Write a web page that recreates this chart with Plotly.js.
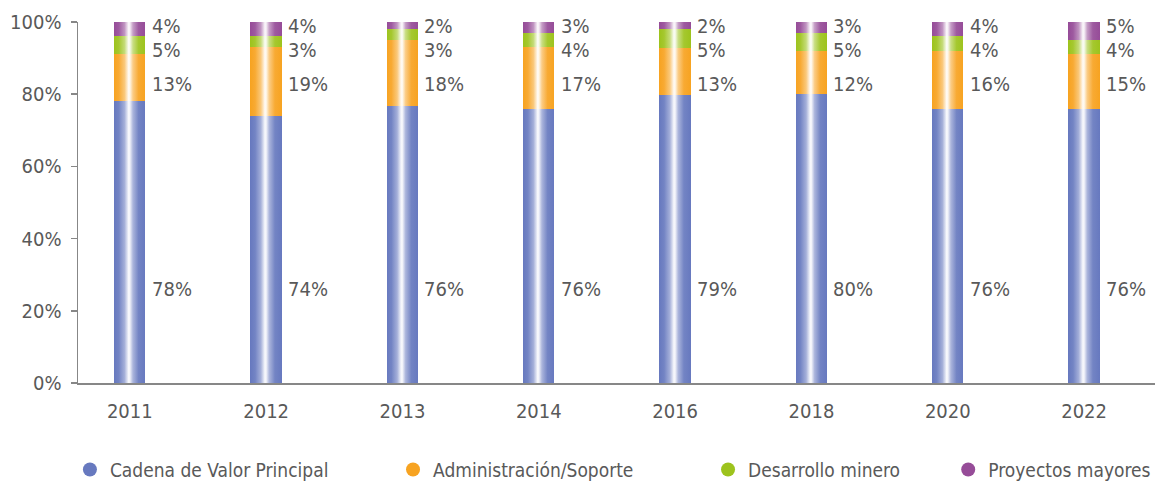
<!DOCTYPE html>
<html><head><meta charset="utf-8">
<script src="https://cdn.plot.ly/plotly-3.0.1.min.js"></script>
<style>html,body{margin:0;padding:0;background:#fff;} #chart{width:1155px;height:483px;}</style>
</head><body><div id="chart"></div>
<script>
// ---- data ----
const years = ['2011','2012','2013','2014','2016','2018','2020','2022'];
const cadena = [78,74,76,76,79,80,76,76];
const admin = [13,19,18,17,13,12,16,15];
const desarrollo = [5,3,3,4,5,5,4,4];
const proyectos = [4,4,2,3,2,3,4,5];
const seriesNames = ['Cadena de Valor Principal','Administración/Soporte','Desarrollo minero','Proyectos mayores'];
const yTickVals = [0,20,40,60,80,100];
const yTickText = ['0%','20%','40%','60%','80%','100%'];

// ---- styles ----
const seriesValues = [cadena, admin, desarrollo, proyectos];
const seriesColors = ['#6779bf','#f7a321','#9dc31d','#964c98'];
const FONT = '"DejaVu Sans Condensed","Liberation Sans Narrow","Arial Narrow",sans-serif';
const TXT = '#595959';
const labelY = [26, 82.8, 92.3, 98.8];
const legendX = [-0.0075, 0.2925, 0.585, 0.808];

const data = [];
seriesValues.forEach((vals, i) => {
  data.push({
    type: 'bar', x: years, y: vals, name: seriesNames[i],
    width: 0.23, marker: {color: seriesColors[i], line: {width: 0}},
    showlegend: false, hoverinfo: 'none'
  });
});
seriesValues.forEach((vals, i) => {
  data.push({
    type: 'scatter', mode: 'markers', x: [null], y: [null], name: seriesNames[i],
    marker: {color: seriesColors[i], size: 14, symbol: 'circle'},
    legend: i === 0 ? 'legend' : 'legend' + (i + 1), showlegend: true
  });
});

const annotations = [];
seriesValues.forEach((vals, i) => {
  vals.forEach((v, j) => {
    annotations.push({
      x: j, y: labelY[i], xref: 'x', yref: 'y', text: v + '%',
      showarrow: false, xanchor: 'left', yanchor: 'middle', xshift: 21, borderpad: 0,
      font: {family: FONT, size: 20, color: TXT}
    });
  });
});

const legendBase = {y: -0.24, yanchor: 'middle', xanchor: 'left', orientation: 'h',
  bgcolor: 'rgba(0,0,0,0)', font: {family: FONT, size: 19, color: TXT}, itemwidth: 30};
const layout = {
  width: 1155, height: 483,
  margin: {l: 78, r: 0, t: 22, b: 100, pad: 0, autoexpand: false},
  paper_bgcolor: '#fff', plot_bgcolor: '#fff',
  barmode: 'stack', barnorm: 'percent',
  font: {family: FONT, size: 20, color: TXT},
  showlegend: true,
  xaxis: {type: 'category', range: [-0.38, 7.52], showline: true, linecolor: '#878787', linewidth: 1.5,
    ticks: '', showgrid: false, zeroline: false, ticklabelstandoff: 9, automargin: false,
    tickfont: {family: FONT, size: 20, color: TXT}},
  yaxis: {range: [0, 100], tickvals: yTickVals, ticktext: yTickText, showline: true,
    linecolor: '#878787', linewidth: 1.5, ticks: 'outside', ticklen: 6, tickcolor: '#878787', tickwidth: 1.5,
    showgrid: false, zeroline: false, ticklabelstandoff: 5, automargin: false,
    tickfont: {family: FONT, size: 20, color: TXT}},
  annotations: annotations,
  legend: Object.assign({}, legendBase, {x: legendX[0]}),
  legend2: Object.assign({}, legendBase, {x: legendX[1]}),
  legend3: Object.assign({}, legendBase, {x: legendX[2]}),
  legend4: Object.assign({}, legendBase, {x: legendX[3]})
};

function mix(hex, t) {
  const n = parseInt(hex.slice(1), 16);
  const r = (n >> 16) & 255, g = (n >> 8) & 255, b = n & 255;
  const f = c => Math.round(c + (255 - c) * t);
  return 'rgb(' + f(r) + ',' + f(g) + ',' + f(b) + ')';
}
const gradStops = [[0,0],[0.15,0.08],[0.33,0.4],[0.46,0.95],[0.5,0.92],[0.6,0.45],[0.78,0.08],[1,0]];

Plotly.newPlot('chart', data, layout, {staticPlot: true, displayModeBar: false}).then(gd => {
  const ns = 'http://www.w3.org/2000/svg';
  const svg = gd.querySelector('svg.main-svg');
  let defs = svg.querySelector('defs');
  if (!defs) { defs = document.createElementNS(ns, 'defs'); svg.insertBefore(defs, svg.firstChild); }
  seriesColors.forEach((c, i) => {
    const g = document.createElementNS(ns, 'linearGradient');
    g.setAttribute('id', 'bargrad' + i);
    g.setAttribute('x1', '0'); g.setAttribute('x2', '1'); g.setAttribute('y1', '0'); g.setAttribute('y2', '0');
    gradStops.forEach(s => {
      const st = document.createElementNS(ns, 'stop');
      st.setAttribute('offset', s[0]);
      st.setAttribute('stop-color', mix(c, s[1]));
      g.appendChild(st);
    });
    defs.appendChild(g);
  });
  gd.querySelectorAll('.barlayer .trace').forEach((tr, i) => {
    tr.querySelectorAll('path').forEach(p => { p.style.fill = 'url(#bargrad' + i + ')'; });
  });
});
</script>
</body></html>
